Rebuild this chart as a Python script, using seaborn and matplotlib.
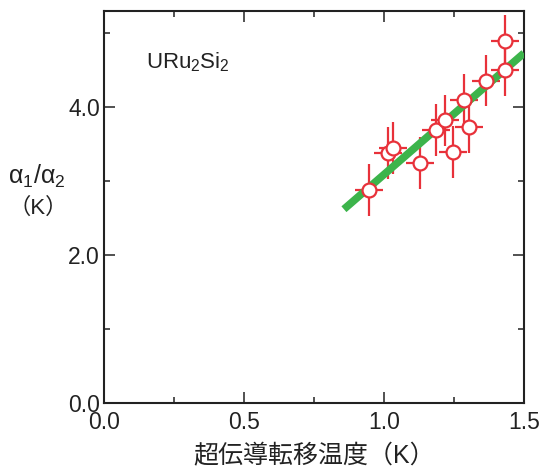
import matplotlib
matplotlib.use("Agg")
import matplotlib.pyplot as plt
import numpy as np
import pandas as pd
import seaborn as sns
from matplotlib.ticker import MultipleLocator

# data
tc = [0.946, 1.016, 1.034, 1.129, 1.185, 1.217, 1.245, 1.304, 1.286, 1.364, 1.433, 1.433]
ratio = [2.88, 3.38, 3.45, 3.24, 3.69, 3.82, 3.39, 3.73, 4.10, 4.36, 4.50, 4.90]
tc_err = [0.05] * len(tc)
ratio_err = [0.35] * len(ratio)
fit_x = [0.857, 1.5]
fit_y = [2.62, 4.73]

RED = "#e8313a"
GREEN = "#3cb44b"

sns.set_style("ticks")
plt.rcParams["font.family"] = ["Liberation Sans", "Noto Sans CJK JP", "DejaVu Sans"]
plt.rcParams["mathtext.fontset"] = "custom"
plt.rcParams["mathtext.rm"] = "Liberation Sans"
plt.rcParams["mathtext.it"] = "Liberation Sans"

df = pd.DataFrame({"tc": tc, "ratio": ratio})
fit = pd.DataFrame({"x": fit_x, "y": fit_y})

fig = plt.figure(figsize=(5.41, 4.68), dpi=100)
ax = fig.add_axes([0.1922, 0.1389, 0.7763, 0.8376])

ax.errorbar(tc, ratio, xerr=tc_err, yerr=ratio_err, fmt="none",
            ecolor=RED, elinewidth=1.6, capsize=0, zorder=2)
sns.lineplot(data=fit, x="x", y="y", color=GREEN, lw=5.5,
             solid_capstyle="butt", ax=ax, zorder=3)
sns.scatterplot(data=df, x="tc", y="ratio", marker="o", s=100,
                facecolor="white", edgecolor=RED, linewidth=1.6,
                ax=ax, zorder=4)

ax.set_xlim(0, 1.5)
ax.set_ylim(0, 5.3)
ax.xaxis.set_major_locator(MultipleLocator(0.5))
ax.xaxis.set_minor_locator(MultipleLocator(0.25))
ax.yaxis.set_major_locator(MultipleLocator(2.0))
ax.yaxis.set_minor_locator(MultipleLocator(1.0))
ax.xaxis.set_major_formatter(matplotlib.ticker.FormatStrFormatter("%.1f"))
ax.yaxis.set_major_formatter(matplotlib.ticker.FormatStrFormatter("%.1f"))
ax.tick_params(which="both", direction="in", top=True, right=True,
               width=1.1, color="#222222", labelsize=16.5,
               labelcolor="#222222")
ax.tick_params(axis="x", pad=6)
ax.tick_params(axis="y", pad=3)
ax.tick_params(which="major", length=8)
ax.tick_params(which="minor", length=4)
for sp in ax.spines.values():
    sp.set_linewidth(1.5)
    sp.set_color("#222222")

ax.set_xlabel("超伝導転移温度（K）", fontsize=18, color="#222222", labelpad=7)
ax.set_ylabel("")
fig.text(0.068, 0.624, r"$\mathregular{\alpha_1/\alpha_2}$", fontsize=18,
         ha="center", va="center", color="#222222")
fig.text(0.07, 0.555, "（K）", fontsize=16, ha="center", va="center",
         color="#222222")
ax.text(0.1, 0.87, r"URu$_2$Si$_2$", transform=ax.transAxes, fontsize=16,
        ha="left", va="center", color="#222222")

fig.savefig("out.png", dpi=100)
